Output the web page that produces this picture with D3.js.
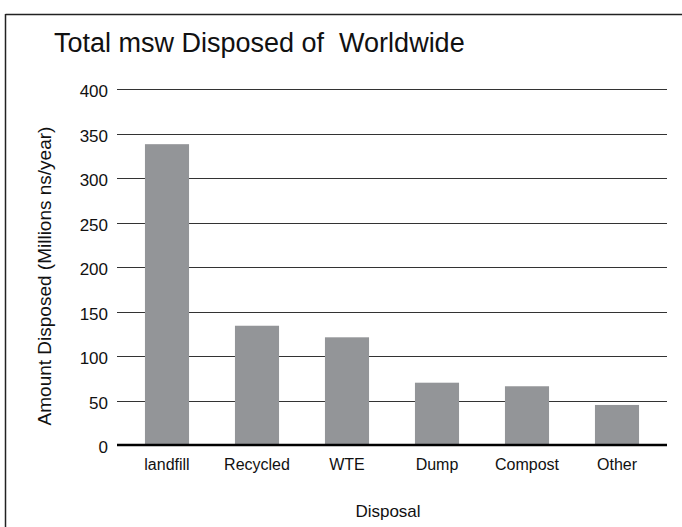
<!DOCTYPE html>
<html>
<head>
<meta charset="utf-8">
<script src="https://cdn.jsdelivr.net/npm/d3@7"></script>
<style>
  body { margin: 0; background: #fff; }
  text { font-family: "Liberation Sans", Arial, Helvetica, sans-serif; fill: #111; }
</style>
</head>
<body>
<div id="chart"></div>
<script>
// chart data
const categories = ['landfill', 'Recycled', 'WTE', 'Dump', 'Compost', 'Other'];
const amounts = [338, 134, 121, 70, 66, 45];
const yTicks = [0, 50, 100, 150, 200, 250, 300, 350, 400];

const svgWidth = 682;
const svgHeight = 527;

const svg = d3.select('#chart')
    .append('svg')
    .attr('width', svgWidth)
    .attr('height', svgHeight);

// frame: only top and left edges show
svg.append('line')
    .attr('x1', 5.5).attr('x2', svgWidth)
    .attr('y1', 14.5).attr('y2', 14.5)
    .attr('stroke', '#222').attr('stroke-width', 1.5);
svg.append('line')
    .attr('x1', 5.5).attr('x2', 5.5)
    .attr('y1', 14).attr('y2', svgHeight)
    .attr('stroke', '#222').attr('stroke-width', 1.5);

// scales
const xScale = d3.scaleBand()
    .domain(categories)
    .range([122, 662])
    .paddingInner(0.51)
    .paddingOuter(0.255);

const yScale = d3.scaleLinear()
    .domain([0, 400])
    .range([445, 89]);

// gridlines
svg.append('g')
    .selectAll('line')
    .data(yTicks.filter(d => d > 0))
    .enter()
    .append('line')
    .attr('x1', 117).attr('x2', 667)
    .attr('y1', d => Math.round(yScale(d)) + 0.5)
    .attr('y2', d => Math.round(yScale(d)) + 0.5)
    .attr('stroke', '#333')
    .attr('stroke-width', 1);

// tick labels
svg.append('g')
    .selectAll('text')
    .data(yTicks)
    .enter()
    .append('text')
    .attr('x', 108)
    .attr('y', d => yScale(d) + 8)
    .attr('text-anchor', 'end')
    .attr('font-size', 17)
    .text(d => d);

// bars
svg.append('g')
    .selectAll('rect')
    .data(amounts)
    .enter()
    .append('rect')
    .attr('x', (d, i) => xScale(categories[i]))
    .attr('y', d => yScale(d))
    .attr('width', xScale.bandwidth())
    .attr('height', d => yScale(0) - yScale(d))
    .attr('fill', '#939598');

// baseline
svg.append('line')
    .attr('x1', 117).attr('x2', 667)
    .attr('y1', yScale(0)).attr('y2', yScale(0))
    .attr('stroke', '#000')
    .attr('stroke-width', 2.5);

// category labels
svg.append('g')
    .selectAll('text')
    .data(categories)
    .enter()
    .append('text')
    .attr('x', d => xScale(d) + xScale.bandwidth() / 2)
    .attr('y', 470)
    .attr('text-anchor', 'middle')
    .attr('font-size', 16)
    .text(d => d);

// title
svg.append('text')
    .attr('x', 54)
    .attr('y', 52)
    .attr('font-size', 27)
    .attr('xml:space', 'preserve')
    .style('white-space', 'pre')
    .text('Total msw Disposed of  Worldwide');

// axis titles
svg.append('text')
    .attr('x', 388)
    .attr('y', 517)
    .attr('text-anchor', 'middle')
    .attr('font-size', 17)
    .text('Disposal');

svg.append('text')
    .attr('transform', 'translate(51, 276) rotate(-90)')
    .attr('text-anchor', 'middle')
    .attr('font-size', 19)
    .text('Amount Disposed (Millions ns/year)');
</script>
</body>
</html>
